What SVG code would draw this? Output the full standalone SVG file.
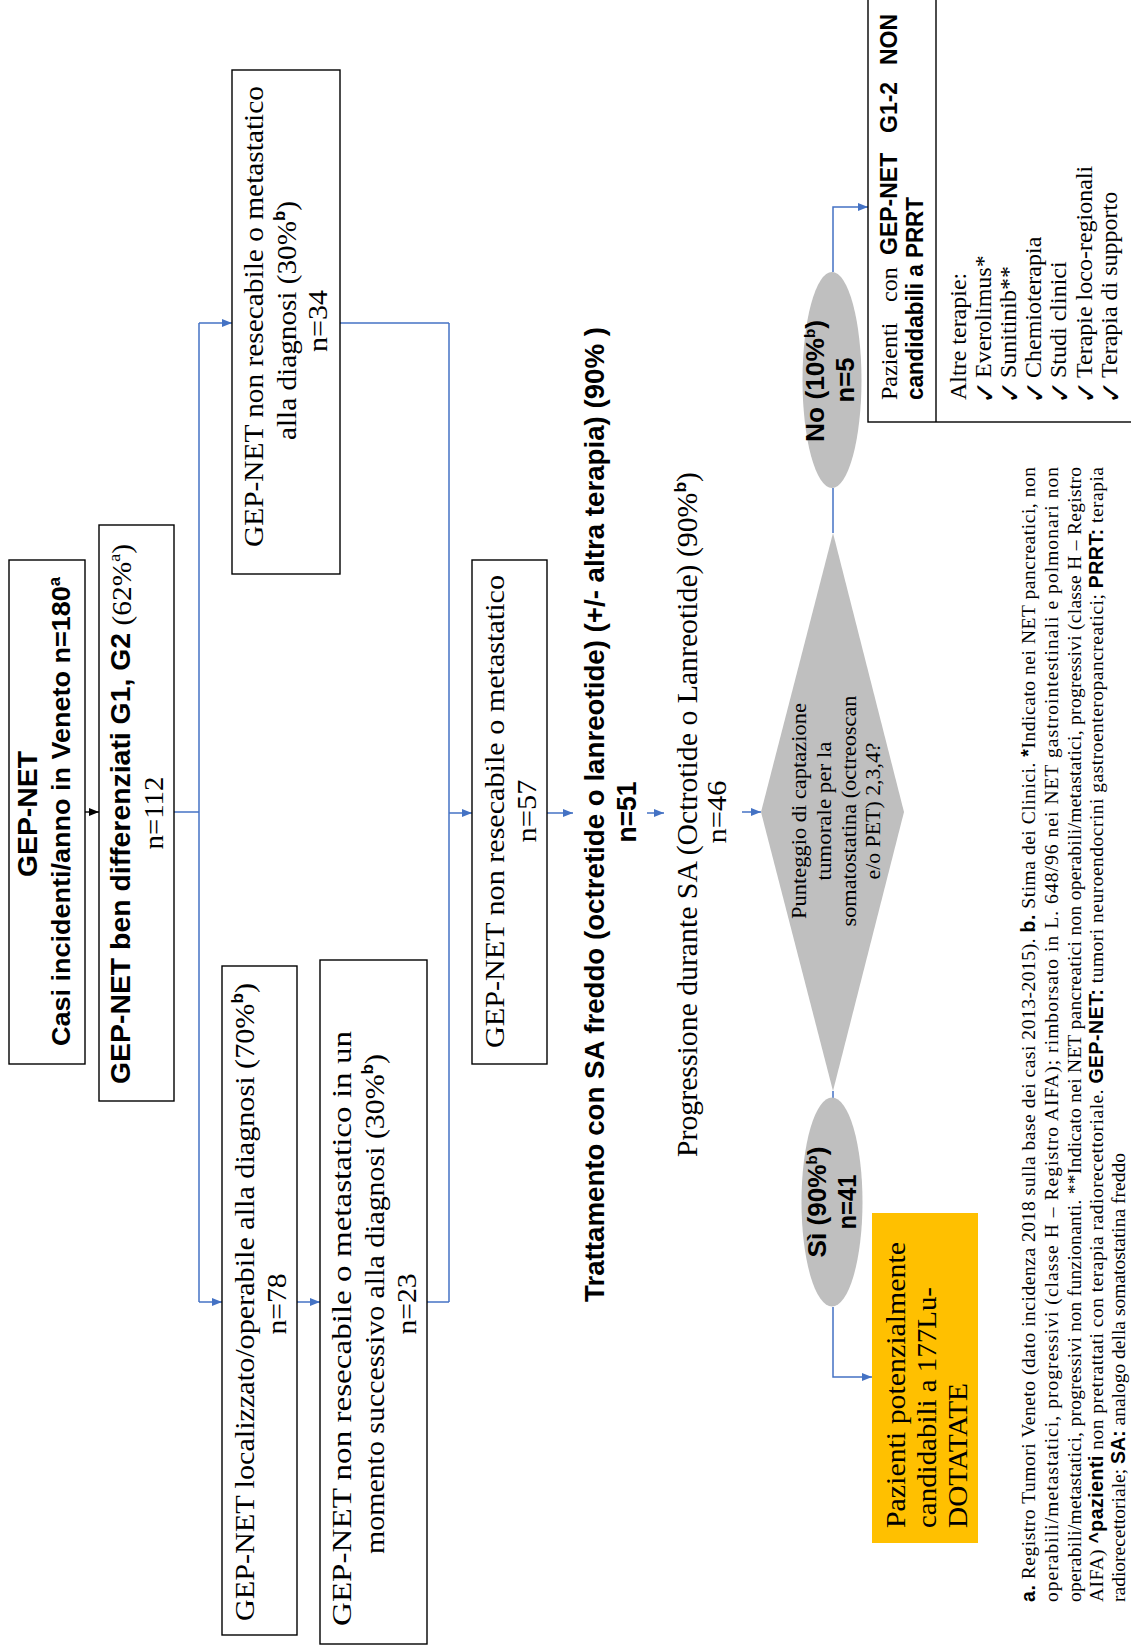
<svg xmlns="http://www.w3.org/2000/svg" width="1131" height="1652" viewBox="0 0 1131 1652">
<defs>
<style>
.sb{font-family:"Liberation Sans",Arial,sans-serif;font-weight:bold;fill:#000}
.sr{font-family:"Liberation Serif","Times New Roman",serif;fill:#000}
text{dominant-baseline:central}
.box{fill:#fff;stroke:#000;stroke-width:1.4}
.gray{fill:#BFBFBF;stroke:none}
.con{fill:none;stroke:#4472C4;stroke-width:1.5}
.blk{fill:none;stroke:#000;stroke-width:1.4}
.chk{font-family:"DejaVu Sans",sans-serif;font-weight:bold;fill:#000}
</style>
<marker id="ab" viewBox="0 0 10 8" refX="10" refY="4" markerWidth="10" markerHeight="8" markerUnits="userSpaceOnUse" orient="auto"><path d="M0,0L10,4L0,8z" fill="#4472C4"/></marker>
<marker id="ak" viewBox="0 0 10 8" refX="10" refY="4" markerWidth="10" markerHeight="8" markerUnits="userSpaceOnUse" orient="auto"><path d="M0,0L10,4L0,8z" fill="#000"/></marker>
</defs>
<rect width="1131" height="1652" fill="#fff"/>

<g id="connectors">
<line class="blk" x1="85" y1="812" x2="99" y2="812" marker-end="url(#ak)"/>
<line class="con" x1="174" y1="812" x2="199" y2="812"/>
<line class="con" x1="199" y1="323" x2="199" y2="1302"/>
<line class="con" x1="199" y1="323" x2="232" y2="323" marker-end="url(#ab)"/>
<line class="con" x1="199" y1="1302" x2="222" y2="1302" marker-end="url(#ab)"/>
<line class="con" x1="297" y1="1302" x2="320" y2="1302" marker-end="url(#ab)"/>
<line class="con" x1="340" y1="323" x2="449" y2="323"/>
<line class="con" x1="427" y1="1302" x2="449" y2="1302"/>
<line class="con" x1="449" y1="323" x2="449" y2="1302"/>
<line class="con" x1="449" y1="813" x2="472" y2="813" marker-end="url(#ab)"/>
<line class="con" x1="547" y1="813" x2="573" y2="813" marker-end="url(#ab)"/>
<line class="con" x1="647" y1="813" x2="664" y2="813" marker-end="url(#ab)"/>
<line class="con" x1="742" y1="812" x2="761" y2="812" marker-end="url(#ab)"/>
<line class="con" x1="833" y1="533" x2="833" y2="488"/>
<polyline class="con" points="833,272 833,207 868,207" marker-end="url(#ab)"/>
<line class="con" x1="833" y1="1091" x2="833" y2="1098"/>
<polyline class="con" points="833,1307 833,1377 872,1377" marker-end="url(#ab)"/>
</g>

<g id="n-veneto">
<rect class="box" x="9" y="560" width="76" height="504"/>
<text class="sb" font-size="27" text-anchor="middle" transform="translate(28,814) rotate(-90)" textLength="126" lengthAdjust="spacingAndGlyphs">GEP-NET</text>
<text class="sb" font-size="26" transform="translate(61,1046) rotate(-90)" textLength="469" lengthAdjust="spacingAndGlyphs">Casi incidenti/anno in Veneto n=180<tspan font-size="16" baseline-shift="40%">a</tspan></text>
</g>

<g id="n-g1g2">
<rect class="box" x="99" y="525" width="75" height="576"/>
<text font-size="27" transform="translate(121,1084) rotate(-90)" textLength="540" lengthAdjust="spacingAndGlyphs"><tspan class="sb">GEP-NET ben differenziati G1, G2</tspan><tspan class="sr" font-size="28"> (62%</tspan><tspan class="sr" font-size="17" baseline-shift="40%">a</tspan><tspan class="sr" font-size="28">)</tspan></text>
<text class="sr" font-size="28" text-anchor="middle" transform="translate(153,813) rotate(-90)" textLength="73" lengthAdjust="spacingAndGlyphs">n=112</text>
</g>

<g id="n-34">
<rect class="box" x="232" y="70" width="108" height="504"/>
<text class="sr" font-size="28" transform="translate(253,547) rotate(-90)" textLength="461" lengthAdjust="spacingAndGlyphs">GEP-NET non resecabile o metastatico</text>
<text class="sr" font-size="28" transform="translate(286,440) rotate(-90)" textLength="239" lengthAdjust="spacingAndGlyphs">alla diagnosi (30%<tspan class="sb" font-size="16" baseline-shift="40%">b</tspan>)</text>
<text class="sr" font-size="27" text-anchor="middle" transform="translate(318,321) rotate(-90)" textLength="62" lengthAdjust="spacingAndGlyphs">n=34</text>
</g>

<g id="n-localizzato">
<rect class="box" x="222" y="966" width="75" height="669"/>
<text class="sr" font-size="28" transform="translate(244,1621) rotate(-90)" textLength="638" lengthAdjust="spacingAndGlyphs">GEP-NET localizzato/operabile alla diagnosi (70%<tspan class="sb" font-size="16" baseline-shift="40%">b</tspan>)</text>
<text class="sr" font-size="27" text-anchor="middle" transform="translate(277,1304) rotate(-90)" textLength="61" lengthAdjust="spacingAndGlyphs">n=78</text>
</g>

<g id="n-successivo">
<rect class="box" x="320" y="960" width="107" height="684"/>
<text class="sr" font-size="28" transform="translate(341,1626) rotate(-90)" textLength="595" lengthAdjust="spacingAndGlyphs">GEP-NET non resecabile o metastatico in un</text>
<text class="sr" font-size="28" transform="translate(374,1554) rotate(-90)" textLength="500" lengthAdjust="spacingAndGlyphs">momento successivo alla diagnosi (30%<tspan class="sb" font-size="16" baseline-shift="40%">b</tspan>)</text>
<text class="sr" font-size="27" text-anchor="middle" transform="translate(407,1304) rotate(-90)" textLength="61" lengthAdjust="spacingAndGlyphs">n=23</text>
</g>

<g id="n-57">
<rect class="box" x="472" y="560" width="75" height="504"/>
<text class="sr" font-size="28" transform="translate(494,1048) rotate(-90)" textLength="473" lengthAdjust="spacingAndGlyphs">GEP-NET non resecabile o metastatico</text>
<text class="sr" font-size="27" text-anchor="middle" transform="translate(527,811) rotate(-90)" textLength="63" lengthAdjust="spacingAndGlyphs">n=57</text>
</g>

<g id="n-trattamento">
<text class="sb" font-size="27" transform="translate(595,1302) rotate(-90)" textLength="975" lengthAdjust="spacingAndGlyphs">Trattamento con SA freddo (octretide o lanreotide)  (+/- altra terapia) (90% )</text>
<text class="sb" font-size="27" text-anchor="middle" transform="translate(627,812) rotate(-90)" textLength="61" lengthAdjust="spacingAndGlyphs">n=51</text>
</g>

<g id="n-progressione">
<text class="sr" font-size="29" transform="translate(687,1157) rotate(-90)" textLength="685" lengthAdjust="spacingAndGlyphs">Progressione durante SA (Octrotide o Lanreotide) (90%<tspan class="sb" font-size="17" baseline-shift="40%">b</tspan>)</text>
<text class="sr" font-size="27" text-anchor="middle" transform="translate(717,812) rotate(-90)" textLength="63" lengthAdjust="spacingAndGlyphs">n=46</text>
</g>

<g id="n-punteggio">
<polygon class="gray" points="761,812 833,533 904,812 833,1091"/>
<text class="sr" font-size="22" text-anchor="middle" transform="translate(798,811) rotate(-90)" textLength="216" lengthAdjust="spacingAndGlyphs">Punteggio di captazione</text>
<text class="sr" font-size="22" text-anchor="middle" transform="translate(823,811) rotate(-90)" textLength="139" lengthAdjust="spacingAndGlyphs">tumorale per la</text>
<text class="sr" font-size="22" text-anchor="middle" transform="translate(848,811) rotate(-90)" textLength="231" lengthAdjust="spacingAndGlyphs">somatostatina (octreoscan</text>
<text class="sr" font-size="22" text-anchor="middle" transform="translate(872,811) rotate(-90)" textLength="137" lengthAdjust="spacingAndGlyphs">e/o PET) 2,3,4?</text>
</g>

<g id="n-no">
<ellipse class="gray" cx="832" cy="380" rx="29.5" ry="108"/>
<text class="sb" font-size="26" text-anchor="middle" transform="translate(815,381) rotate(-90)" textLength="122" lengthAdjust="spacingAndGlyphs">No (10%<tspan font-size="15" baseline-shift="40%">b</tspan>)</text>
<text class="sb" font-size="26" text-anchor="middle" transform="translate(845,380) rotate(-90)" textLength="45" lengthAdjust="spacingAndGlyphs">n=5</text>
</g>

<g id="n-si">
<ellipse class="gray" cx="832" cy="1202" rx="30.5" ry="104.5"/>
<text class="sb" font-size="26" text-anchor="middle" transform="translate(817,1202) rotate(-90)" textLength="111" lengthAdjust="spacingAndGlyphs">Sì (90%<tspan font-size="15" baseline-shift="40%">b</tspan>)</text>
<text class="sb" font-size="26" text-anchor="middle" transform="translate(847,1202) rotate(-90)" textLength="55" lengthAdjust="spacingAndGlyphs">n=41</text>
</g>

<g id="n-lutathera">
<rect x="872" y="1213" width="106" height="330" fill="#FFC000"/>
<text class="sr" font-size="28" transform="translate(895,1528) rotate(-90)" textLength="286" lengthAdjust="spacingAndGlyphs">Pazienti potenzialmente</text>
<text class="sr" font-size="28" transform="translate(926,1528) rotate(-90)" textLength="241" lengthAdjust="spacingAndGlyphs">candidabili a 177Lu-</text>
<text class="sr" font-size="28" transform="translate(957,1528) rotate(-90)" textLength="145" lengthAdjust="spacingAndGlyphs">DOTATATE</text>
</g>

<g id="n-non-prrt">
<rect class="box" x="868" y="-5" width="275" height="427"/>
<line class="blk" x1="936" y1="-5" x2="936" y2="422"/>
<text transform="translate(889,400) rotate(-90)"><tspan class="sr" font-size="24" x="0">Pazienti</tspan><tspan class="sr" font-size="24" x="98">con</tspan><tspan class="sb" font-size="23" x="145">GEP-NET</tspan><tspan class="sb" font-size="23" x="267">G1-2</tspan><tspan class="sb" font-size="23" x="335">NON</tspan></text>
<text class="sb" font-size="23" transform="translate(915,400) rotate(-90)" textLength="203" lengthAdjust="spacingAndGlyphs">candidabili a PRRT</text>
<text class="sr" font-size="24" transform="translate(958,400) rotate(-90)">Altre terapie:</text>
<text class="chk" font-size="28" transform="translate(985,404) rotate(-90)">✓</text>
<text class="sr" font-size="24" transform="translate(983,378) rotate(-90)">Everolimus*</text>
<text class="chk" font-size="28" transform="translate(1010,404) rotate(-90)">✓</text>
<text class="sr" font-size="24" transform="translate(1008,378) rotate(-90)">Sunitinib**</text>
<text class="chk" font-size="28" transform="translate(1035,404) rotate(-90)">✓</text>
<text class="sr" font-size="24" transform="translate(1033,378) rotate(-90)">Chemioterapia</text>
<text class="chk" font-size="28" transform="translate(1060,404) rotate(-90)">✓</text>
<text class="sr" font-size="24" transform="translate(1058,378) rotate(-90)">Studi clinici</text>
<text class="chk" font-size="28" transform="translate(1086,404) rotate(-90)">✓</text>
<text class="sr" font-size="24" transform="translate(1084,378) rotate(-90)">Terapie loco-regionali</text>
<text class="chk" font-size="28" transform="translate(1111,404) rotate(-90)">✓</text>
<text class="sr" font-size="24" transform="translate(1109,378) rotate(-90)">Terapia di supporto</text>
</g>

<g id="footnote" class="sr" font-size="19.5">
<text transform="translate(1028,1602) rotate(-90)" textLength="1135" lengthAdjust="spacing"><tspan class="sb">a.</tspan> Registro Tumori Veneto (dato incidenza 2018 sulla base dei casi 2013-2015). <tspan class="sb">b.</tspan> Stima dei Clinici. <tspan class="sb">*</tspan>Indicato nei NET pancreatici, non</text>
<text transform="translate(1051,1602) rotate(-90)" textLength="1135" lengthAdjust="spacing">operabili/metastatici, progressivi (classe H – Registro AIFA); rimborsato in L. 648/96 nei NET gastrointestinali e polmonari non</text>
<text transform="translate(1074,1602) rotate(-90)" textLength="1135" lengthAdjust="spacing">operabili/metastatici, progressivi non funzionanti. **Indicato nei NET pancreatici non operabili/metastatici, progressivi (classe H – Registro</text>
<text transform="translate(1096,1602) rotate(-90)" textLength="1135" lengthAdjust="spacing">AIFA) <tspan class="sb">^pazienti</tspan> non pretrattati con terapia radiorecettoriale. <tspan class="sb">GEP-NET:</tspan> tumori neuroendocrini gastroenteropancreatici; <tspan class="sb">PRRT:</tspan> terapia</text>
<text transform="translate(1118,1602) rotate(-90)">radiorecettoriale; <tspan class="sb">SA:</tspan> analogo della somatostatina freddo</text>
</g>
</svg>
